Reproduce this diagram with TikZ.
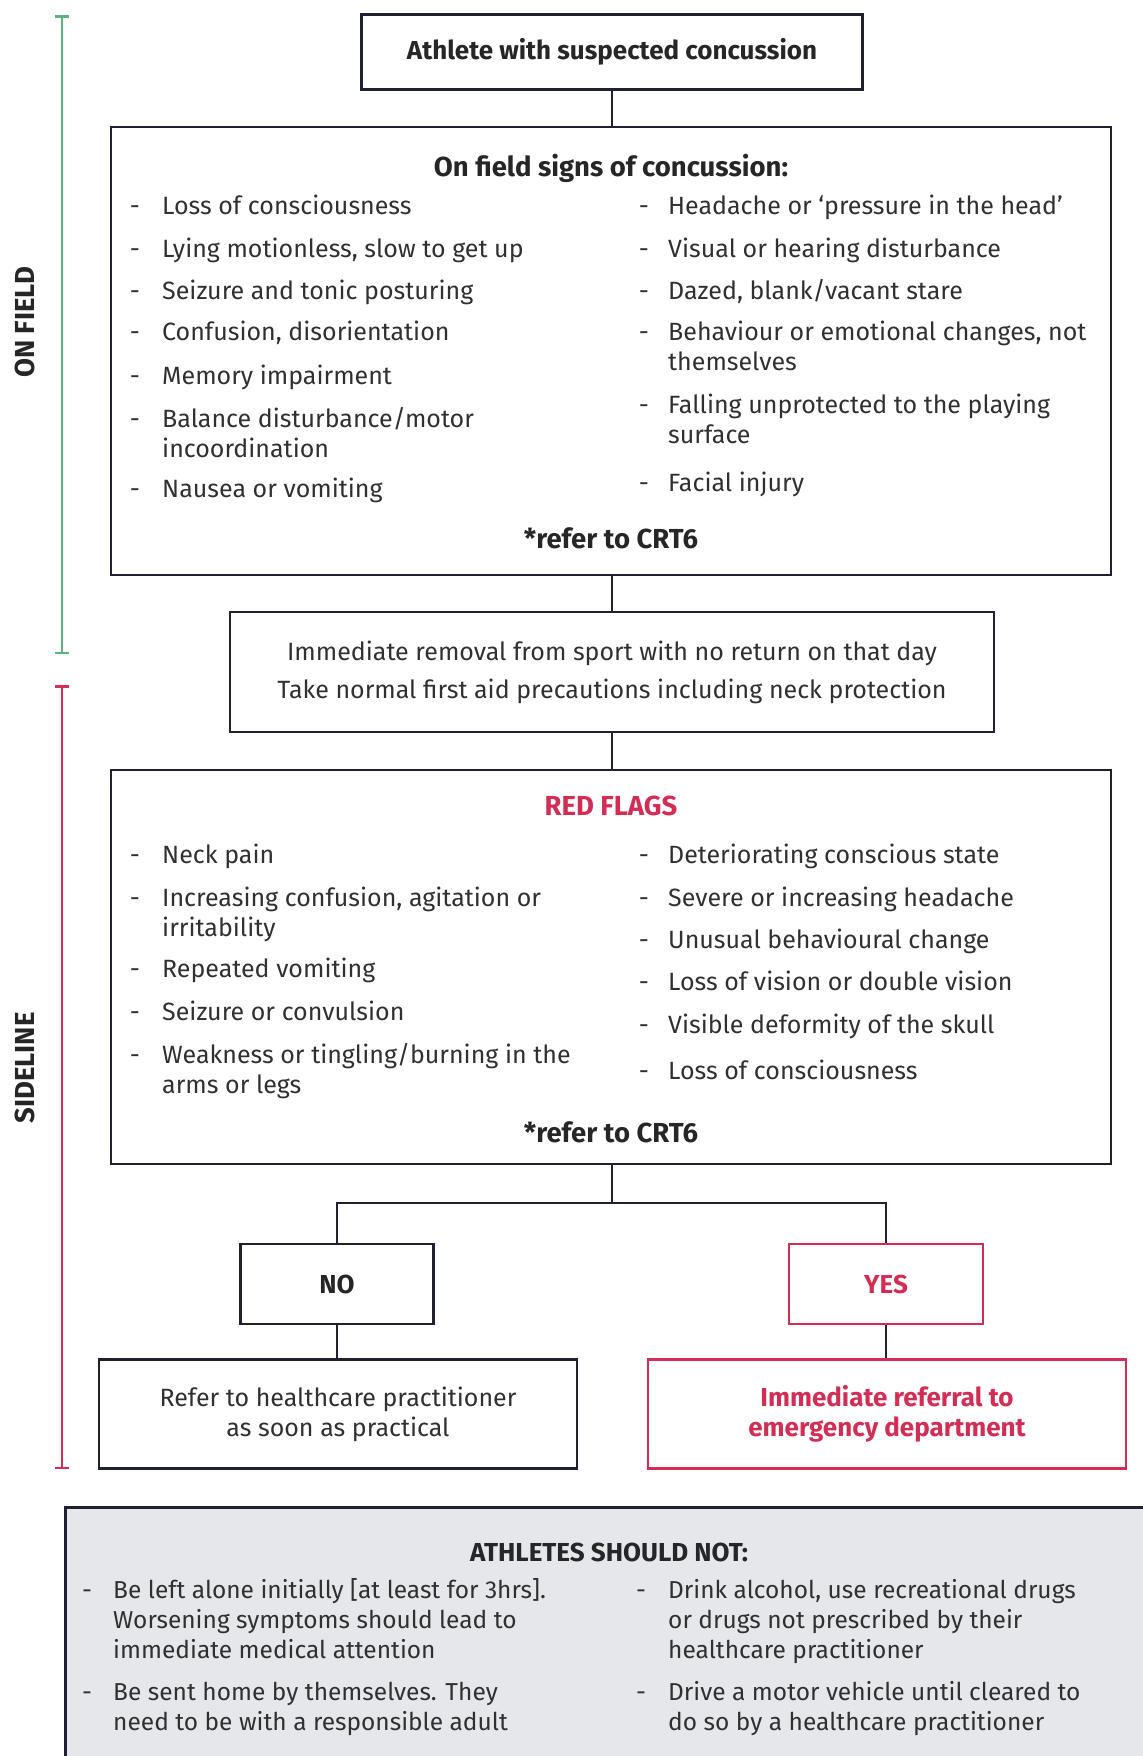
\documentclass[tikz,border=0pt]{standalone}
\usepackage{fontspec}
\setmainfont{Fira Sans}
\usetikzlibrary{arrows.meta}
\definecolor{cclinec}{HTML}{1F2133}
\definecolor{cctext}{HTML}{303030}
\definecolor{ccred}{HTML}{D22D55}
\definecolor{ccgreen}{HTML}{5DB37E}
\definecolor{ccgrey}{HTML}{E5E7EA}
\newcommand{\ccbody}{\fontsize{25}{30}\selectfont}
\newcommand{\ccbold}{\fontsize{26}{30}\selectfont\bfseries}
\newcommand{\cchead}{\fontsize{27.5}{30}\selectfont\bfseries}
\newcommand{\ccsmall}{\fontsize{24.5}{30}\selectfont}

\begin{document}
\begin{tikzpicture}[x=1pt, y=-1pt,
  every node/.style={font=\ccbody, text=cctext},
  box/.style={rectangle, draw=cclinec, line width=2.5pt, inner sep=0pt, align=center},
  redbox/.style={box, draw=ccred},
  signdash/.style={anchor=north, inner sep=0pt},
  signitem/.style={anchor=north west, inner sep=0pt, align=left},
  headtext/.style={font=\cchead, text=black!85},
  link/.style={draw=cclinec, line width=2.5pt},
  phasebar/.style={line width=2.5pt, {Bar[width=14pt]}-{Bar[width=14pt]}}]
  \useasboundingbox (0,0) rectangle (1143,1756);

  % Phase bars
  \coordinate (fieldtop) at (62,15);
  \coordinate (fieldbot) at (62,654);
  \coordinate (sidetop) at (62,685);
  \coordinate (sidebot) at (62,1469);
  \draw[phasebar, ccgreen] (fieldtop) -- (fieldbot);
  \draw[phasebar, ccred] (sidetop) -- (sidebot);
  \node[headtext, rotate=90] (onfield) at (25,322) {ON FIELD};
  \node[headtext, rotate=90] (sideline) at (25,1068) {SIDELINE};

  % Main boxes
  \node[box, minimum width=501pt, minimum height=75pt, font=\ccbold, text=black!85] (athlete) at (612,52)
      {Athlete with suspected concussion};
  \node[box, minimum width=1000pt, minimum height=448pt] (signs) at (611,351) {};
  \node[box, minimum width=764pt, minimum height=120pt] (removal) at (612,672)
      {Immediate removal from sport with no return on that day\\[8pt]
       Take normal first aid precautions including neck protection};
  \node[box, minimum width=1000pt, minimum height=394pt] (flags) at (611,967) {};
  \node[box, minimum width=193pt, minimum height=80pt, font=\ccbold, text=black!85] (no) at (337,1284) {NO};
  \node[redbox, minimum width=194pt, minimum height=80pt, font=\ccbold, text=ccred] (yes) at (886,1284) {YES};
  \node[box, minimum width=478pt, minimum height=109pt] (refer) at (338,1414)
      {Refer to healthcare practitioner\\as soon as practical};
  \node[redbox, minimum width=478pt, minimum height=109pt, font=\ccbold, text=ccred] (emergency) at (887,1414)
      {Immediate referral to\\emergency department};

  % On field signs
  \node[headtext] (signstitle) at (611,168) {On field signs of concussion:};
  \foreach \y/\t [count=\i] in {206/{Loss of consciousness}, 249/{Lying motionless, slow to get up},
      291/{Seizure and tonic posturing}, 332/{Confusion, disorientation}, 376/{Memory impairment},
      419/{Balance disturbance/motor\\incoordination}, 489/{Nausea or vomiting}} {
    \node[signdash] (osld\i) at (135,\y-13) {\strut -};
    \node[signitem] (osl\i) at (162,\y-13) {\strut \t};
  }
  \foreach \y/\t [count=\i] in {206/{Headache or ‘pressure in the head’}, 249/{Visual or hearing disturbance},
      291/{Dazed, blank/vacant stare}, 332/{Behaviour or emotional changes, not\\themselves},
      405/{Falling unprotected to the playing\\surface}, 483/{Facial injury}} {
    \node[signdash] (osrd\i) at (644,\y-13) {\strut -};
    \node[signitem] (osr\i) at (668,\y-13) {\strut \t};
  }
  \node[headtext] (signsref) at (611,538) {*refer to CRT6};

  % Red flags
  \node[headtext, text=ccred] (flagstitle) at (611,806) {RED FLAGS};
  \foreach \y/\t [count=\i] in {855/{Neck pain}, 898/{Increasing confusion, agitation or\\irritability},
      969/{Repeated vomiting}, 1012/{Seizure or convulsion},
      1055/{Weakness or tingling/burning in the\\arms or legs}} {
    \node[signdash] (rfld\i) at (135,\y-13) {\strut -};
    \node[signitem] (rfl\i) at (162,\y-13) {\strut \t};
  }
  \foreach \y/\t [count=\i] in {855/{Deteriorating conscious state}, 898/{Severe or increasing headache},
      940/{Unusual behavioural change}, 982/{Loss of vision or double vision},
      1025/{Visible deformity of the skull}, 1071/{Loss of consciousness}} {
    \node[signdash] (rfrd\i) at (644,\y-13) {\strut -};
    \node[signitem] (rfr\i) at (668,\y-13) {\strut \t};
  }
  \node[headtext] (flagsref) at (611,1132) {*refer to CRT6};

  % Connectors
  \coordinate (split) at (612,1203);
  \draw[link] (athlete.south) -- (signs.north -| athlete.south);
  \draw[link] (signs.south -| athlete.south) -- (removal.north -| athlete.south);
  \draw[link] (removal.south -| athlete.south) -- (flags.north -| athlete.south);
  \draw[link] (flags.south -| split) -- (split) -| (no.north);
  \draw[link] (split) -| (yes.north);
  \draw[link] (no.south) -- (refer.north -| no.south);
  \draw[link] (yes.south) -- (emergency.north -| yes.south);

  % Athletes should not
  \node[rectangle, draw=cclinec, fill=ccgrey, line width=2.5pt, anchor=north west,
        minimum width=1120pt, minimum height=290pt] (avoid) at (64,1506) {};
  \node[headtext, font=\fontsize{26}{30}\selectfont\bfseries] (avoidtitle) at (609,1552) {ATHLETES SHOULD NOT:};
  \foreach \y/\t [count=\i] in {1590/{Be left alone initially [at least for 3hrs].\\Worsening symptoms should lead to\\immediate medical attention},
      1692/{Be sent home by themselves. They\\need to be with a responsible adult}} {
    \node[signdash, font=\ccsmall] (anld\i) at (87,\y-13) {\strut -};
    \node[signitem, font=\ccsmall] (anl\i) at (113,\y-13) {\strut \t};
  }
  \foreach \y/\t [count=\i] in {1590/{Drink alcohol, use recreational drugs\\or drugs not prescribed by their\\healthcare practitioner},
      1692/{Drive a motor vehicle until cleared to\\do so by a healthcare practitioner}} {
    \node[signdash, font=\ccsmall] (anrd\i) at (641,\y-13) {\strut -};
    \node[signitem, font=\ccsmall] (anr\i) at (668,\y-13) {\strut \t};
  }
\end{tikzpicture}
\end{document}
